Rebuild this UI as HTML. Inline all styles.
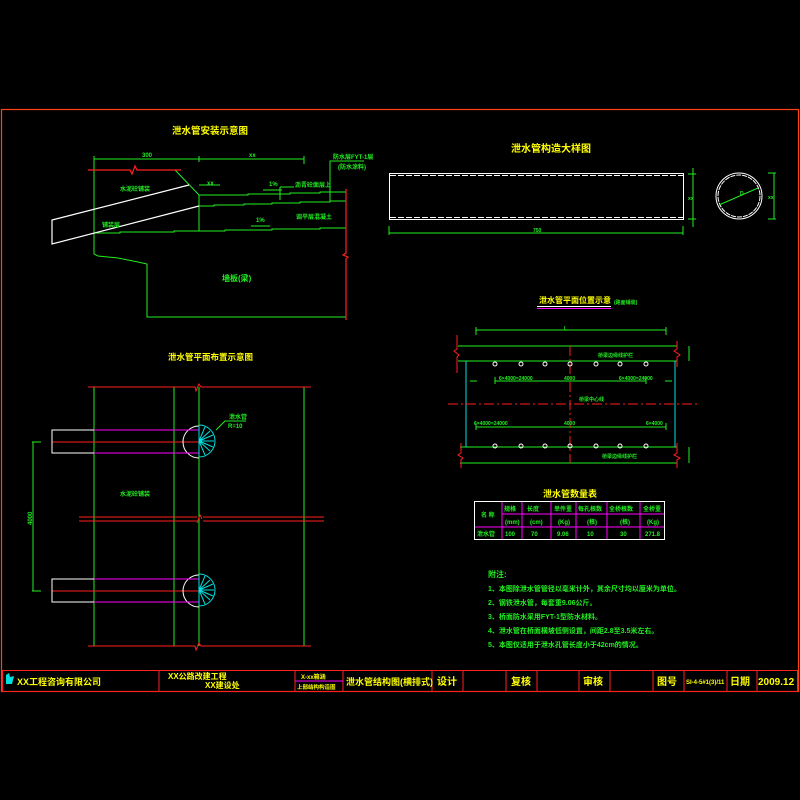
<!DOCTYPE html>
<html><head><meta charset="utf-8"><style>
html,body{margin:0;padding:0;background:#000;}
svg{display:block}
text{font-family:"Liberation Sans","Noto Sans CJK SC","WenQuanYi Zen Hei",sans-serif;font-weight:bold}
</style></head><body>
<svg width="800" height="800" viewBox="0 0 800 800" xmlns="http://www.w3.org/2000/svg">
<rect width="800" height="800" fill="#000"/>
<rect x="1.5" y="109.5" width="797" height="582" fill="none" stroke="#ff4010" stroke-width="1.2"/>
<g stroke="#ff2020" stroke-width="1" fill="none">
<rect x="2.5" y="670.5" width="795" height="21"/>
<line x1="159" y1="670" x2="159" y2="691"/><line x1="295" y1="670" x2="295" y2="691"/>
<line x1="343" y1="670" x2="343" y2="691"/><line x1="432" y1="670" x2="432" y2="691"/>
<line x1="463" y1="670" x2="463" y2="691"/><line x1="506" y1="670" x2="506" y2="691"/>
<line x1="537" y1="670" x2="537" y2="691"/><line x1="579" y1="670" x2="579" y2="691"/>
<line x1="610" y1="670" x2="610" y2="691"/><line x1="653" y1="670" x2="653" y2="691"/>
<line x1="684" y1="670" x2="684" y2="691"/><line x1="727" y1="670" x2="727" y2="691"/>
<line x1="757" y1="670" x2="757" y2="691"/>
</g>
<line x1="295" y1="681" x2="343" y2="681" stroke="#ff00ff"/>
<polygon points="6,684 12,684 14,676 10,677 9,673 6,675" fill="#00e0e0"/>
<g fill="#ffff00" font-size="9">
<text x="17" y="685">XX工程咨询有限公司</text>
<text x="168" y="679" font-size="8">XX公路改建工程</text>
<text x="205" y="688" font-size="8">XX建设处</text>
<text x="301" y="679" font-size="6">X-xx箱涵</text>
<text x="297" y="689" font-size="5.5">上部结构构造图</text>
<text x="346" y="685">泄水管结构图(横排式)</text>
<text x="437" y="685" font-size="10">设计</text>
<text x="511" y="685" font-size="10">复核</text>
<text x="583" y="685" font-size="10">审核</text>
<text x="657" y="685" font-size="10">图号</text>
<text x="686" y="684" font-size="6">SI-4-5#1(3)/11</text>
<text x="730" y="685" font-size="10">日期</text>
<text x="758" y="685" font-size="10" font-weight="normal">2009.12</text>
</g>

<text x="172" y="134" fill="#ffff00" font-size="9.5">泄水管安装示意图</text>
<g stroke="#22ee22" stroke-width="1" fill="none">
<line x1="94" y1="159" x2="304" y2="159"/><line x1="94" y1="156" x2="94" y2="162"/><line x1="199" y1="156" x2="199" y2="162"/><line x1="304" y1="156" x2="304" y2="164"/>
<polyline points="94,159 94,254 98,256 108,257 118,258 128,260 138,262 147,264 147,317 346,317"/>
<line x1="175" y1="170" x2="199" y2="195"/>
<line x1="199" y1="185" x2="220" y2="185"/>
<polyline points="199,195 248,195 248,194 290,194 290,193 320,193 320,192 346,192"/>
<polyline points="199,206 214,206 214,205 244,205 244,204 272,204 272,203 300,203 300,202 330,202 330,201 346,201"/>
<polyline points="94,233 120,233 120,232 174,232 174,231 225,231 225,230 272,230 272,229 320,229 320,228 346,228"/>
<line x1="199" y1="195" x2="199" y2="231"/>
<polyline points="330,202 330,161 364,161"/>
<line x1="263" y1="190" x2="282" y2="190"/><line x1="251" y1="226" x2="270" y2="226"/>
<line x1="280" y1="187" x2="294" y2="187"/><line x1="280" y1="187" x2="280" y2="200"/>
</g>
<g stroke="#ff2020" stroke-width="1.2" fill="none">
<polyline points="88,170 130,170 132,174 135,166 137,170 181,170"/>
<polyline points="346,189 346,253 343,255 348,257 346,259 346,320"/>
</g>
<g stroke="#ffffff" stroke-width="1.2" fill="none">
<polyline points="189,185 52,220 52,244 199,206"/>
</g>
<g fill="#22ee22" font-size="6">
<text x="142" y="157">300</text><text x="249" y="157">xx</text><text x="207" y="185">xx</text>
<text x="120" y="191">水泥砼铺装</text><text x="102" y="227">铺装层</text>
<text x="295" y="187">沥青砼面层上</text><text x="296" y="219">调平层混凝土</text>
<text x="269" y="186">1%</text><text x="256" y="222">1%</text>
<text x="333" y="159">防水层FYT-1层</text><text x="338" y="169">(防水涂料)</text>
<text x="222" y="281" font-size="8">墙板(梁)</text>
</g>

<text x="511" y="152" fill="#ffff00" font-size="10">泄水管构造大样图</text>
<g stroke="#ffffff" stroke-width="1" fill="none">
<rect x="389.5" y="173.5" width="294" height="46"/>
<line x1="390" y1="175.5" x2="683" y2="175.5" stroke-dasharray="6,2"/>
<line x1="390" y1="217.5" x2="683" y2="217.5" stroke-dasharray="6,2"/>
<circle cx="739" cy="196" r="23"/><circle cx="739" cy="196" r="21" stroke-dasharray="5,1"/>
</g>
<g stroke="#22ee22" stroke-width="1" fill="none">
<line x1="389" y1="233" x2="683" y2="233"/><line x1="389" y1="226" x2="389" y2="235"/><line x1="683" y1="226" x2="683" y2="235"/>
<line x1="693" y1="168" x2="693" y2="227"/><line x1="688" y1="174" x2="696" y2="174"/><line x1="688" y1="219" x2="696" y2="219"/>
<line x1="774" y1="173" x2="774" y2="219"/><line x1="768" y1="173" x2="776" y2="173"/><line x1="768" y1="219" x2="776" y2="219"/>
<line x1="719" y1="205" x2="758" y2="188"/>
</g>
<g fill="#22ee22" font-size="5"><text x="533" y="232">750</text><text x="688" y="200">xx</text><text x="768" y="199">xx</text><text x="740" y="195">D</text></g>

<text x="539" y="303" fill="#ffff00" font-size="8">泄水管平面位置示意</text>
<text x="614" y="304" fill="#22ee22" font-size="5">(路面铺装)</text>
<line x1="537" y1="306.5" x2="611" y2="306.5" stroke="#fff"/>
<line x1="537" y1="308.5" x2="611" y2="308.5" stroke="#ff00ff"/>
<g stroke="#22ee22" stroke-width="1" fill="none">
<line x1="476" y1="330" x2="666" y2="330"/><line x1="476" y1="327" x2="476" y2="335"/><line x1="666" y1="327" x2="666" y2="335"/>
<line x1="458" y1="346" x2="677" y2="346"/><line x1="458" y1="361" x2="677" y2="361"/>
<line x1="460" y1="447" x2="677" y2="447"/><line x1="460" y1="463" x2="677" y2="463"/>
<line x1="495" y1="381" x2="646" y2="381"/><line x1="495" y1="377" x2="495" y2="384"/><line x1="646" y1="377" x2="646" y2="384"/>
<line x1="476" y1="427" x2="666" y2="427"/><line x1="476" y1="423" x2="476" y2="430"/><line x1="666" y1="423" x2="666" y2="430"/>
<line x1="470" y1="381" x2="477" y2="381"/><line x1="665" y1="381" x2="672" y2="381"/>
<line x1="689" y1="346" x2="689" y2="361"/><line x1="689" y1="447" x2="689" y2="463"/>
</g>
<g stroke="#00e0e0" stroke-width="1"><line x1="466" y1="361" x2="466" y2="447"/><line x1="675" y1="361" x2="675" y2="447"/></g>
<g stroke="#ff2020" stroke-width="1" fill="none">
<polyline points="457,335 457,349 454,351 459,355 457,357 457,373"/>
<polyline points="677,341 677,349 674,351 680,355 677,357 677,367"/>
<polyline points="461,443 461,453 458,455 463,458 461,460 461,468"/>
<polyline points="677,443 677,453 674,455 680,458 677,460 677,468"/>
<line x1="448" y1="404" x2="700" y2="404" stroke-dasharray="10,3,2,3"/>
<line x1="570" y1="346" x2="570" y2="463" stroke-dasharray="10,3,2,3"/>
</g>
<g stroke="#fff" fill="none" stroke-width="1">
<circle cx="495" cy="364" r="2"/><circle cx="521" cy="364" r="2"/><circle cx="545" cy="364" r="2"/><circle cx="570" cy="364" r="2"/><circle cx="596" cy="364" r="2"/><circle cx="620" cy="364" r="2"/><circle cx="646" cy="364" r="2"/>
<circle cx="495" cy="446" r="2"/><circle cx="521" cy="446" r="2"/><circle cx="545" cy="446" r="2"/><circle cx="570" cy="446" r="2"/><circle cx="596" cy="446" r="2"/><circle cx="620" cy="446" r="2"/><circle cx="646" cy="446" r="2"/>
</g>
<g fill="#22ee22" font-size="5">
<text x="598" y="357">桥梁边缘线护栏</text><text x="602" y="458">桥梁边缘线护栏</text>
<text x="499" y="380">6×4000=24000</text><text x="564" y="380">4000</text><text x="619" y="380">6×4000=24000</text>
<text x="579" y="401">桥梁中心线</text>
<text x="474" y="425">6×4000=24000</text><text x="564" y="425">4000</text><text x="646" y="425">6×4000</text>
<text x="564" y="330">L</text>
</g>

<text x="168" y="360" fill="#ffff00" font-size="8.5">泄水管平面布置示意图</text>
<g stroke="#22ee22" stroke-width="1" fill="none">
<line x1="94" y1="387" x2="94" y2="646"/><line x1="174" y1="387" x2="174" y2="646"/>
<line x1="199" y1="387" x2="199" y2="646"/><line x1="304" y1="387" x2="304" y2="646"/>
<line x1="33" y1="442" x2="33" y2="591"/><line x1="32" y1="442" x2="41" y2="442"/><line x1="32" y1="591" x2="41" y2="591"/>
<polyline points="216,430 225,421 246,421"/>
</g>
<g stroke="#ff2020" stroke-width="1" fill="none">
<polyline points="88,387 195,387 196,391 199,384 201,387 311,387"/>
<polyline points="79,517 197,517"/><polyline points="203,517 324,517"/>
<polyline points="79,521 197,521"/><polyline points="203,521 324,521"/>
<polyline points="197,523 200,515 202,519"/>
<polyline points="88,646 195,646 196,650 199,643 201,646 311,646"/>
<line x1="52" y1="442" x2="199" y2="442"/><line x1="52" y1="591" x2="199" y2="591"/>
</g>
<g stroke="#fff" stroke-width="1" fill="none">
<polyline points="94,430 52,430 52,453 94,453"/><polyline points="94,579 52,579 52,602 94,602"/>
<path d="M199,426 A16,16 0 0 0 199,458"/><path d="M199,575 A16,16 0 0 0 199,607"/>
</g>
<g stroke="#ff00ff" stroke-width="1"><line x1="94" y1="430" x2="199" y2="430"/><line x1="94" y1="453" x2="199" y2="453"/><line x1="94" y1="579" x2="199" y2="579"/><line x1="94" y1="602" x2="199" y2="602"/></g>
<g stroke="#00e0e0" stroke-width="1" fill="none">
<path d="M199,425 A16,16 0 0 1 199,457"/><path d="M199,574 A16,16 0 0 1 199,606"/>
<path d="M199,441 l0,-15 M199,441 l6,-14 M199,441 l11,-10 M199,441 l14,-6 M199,441 l15,0 M199,441 l14,6 M199,441 l11,10 M199,441 l6,14 M199,441 l0,15"/>
<path d="M199,590 l0,-15 M199,590 l6,-14 M199,590 l11,-10 M199,590 l14,-6 M199,590 l15,0 M199,590 l14,6 M199,590 l11,10 M199,590 l6,14 M199,590 l0,15"/>
</g>
<g fill="#22ee22" font-size="6">
<text x="229" y="419">泄水管</text><text x="228" y="428">R=10</text>
<text x="120" y="496">水泥砼铺装</text>
<text x="0" y="0" transform="translate(32,525) rotate(-90)">4000</text>
</g>

<text x="543" y="497" fill="#ffff00" font-size="9">泄水管数量表</text>
<g stroke="#ff00ff" stroke-width="1">
<line x1="502" y1="501" x2="502" y2="540"/><line x1="522" y1="501" x2="522" y2="540"/>
<line x1="551" y1="501" x2="551" y2="540"/><line x1="576" y1="501" x2="576" y2="540"/>
<line x1="607" y1="501" x2="607" y2="540"/><line x1="640" y1="501" x2="640" y2="540"/>
<line x1="502" y1="514" x2="664" y2="514"/><line x1="474" y1="527" x2="664" y2="527"/>
</g>
<rect x="474.5" y="501.5" width="190" height="38" fill="none" stroke="#fff"/>
<g fill="#22ee22" font-size="6">
<text x="481" y="517">名 称</text>
<text x="504" y="511">规格</text><text x="527" y="511">长度</text><text x="554" y="511">单件重</text><text x="578" y="511">每孔根数</text><text x="609" y="511">全桥根数</text><text x="643" y="511">全桥重</text>
<text x="505" y="524">(mm)</text><text x="530" y="524">(cm)</text><text x="558" y="524">(Kg)</text><text x="587" y="524">(根)</text><text x="620" y="524">(根)</text><text x="647" y="524">(Kg)</text>
<text x="477" y="536">泄水管</text><text x="505" y="536">100</text><text x="531" y="536">70</text><text x="557" y="536">9.06</text><text x="587" y="536">10</text><text x="620" y="536">30</text><text x="645" y="536">271.8</text>
</g>
<g fill="#22ee22" font-size="7">
<text x="488" y="577" font-size="8">附注:</text>
<text x="488" y="591">1、本图除泄水管管径以毫米计外，其余尺寸均以厘米为单位。</text>
<text x="488" y="605">2、钢铁泄水管，每套重9.06公斤。</text>
<text x="488" y="619">3、桥面防水采用FYT-1型防水材料。</text>
<text x="488" y="633">4、泄水管在桥面横坡低侧设置，间距2.8至3.5米左右。</text>
<text x="488" y="647">5、本图仅适用于泄水孔管长度小于42cm的情况。</text>
</g>
</svg>
</body></html>
